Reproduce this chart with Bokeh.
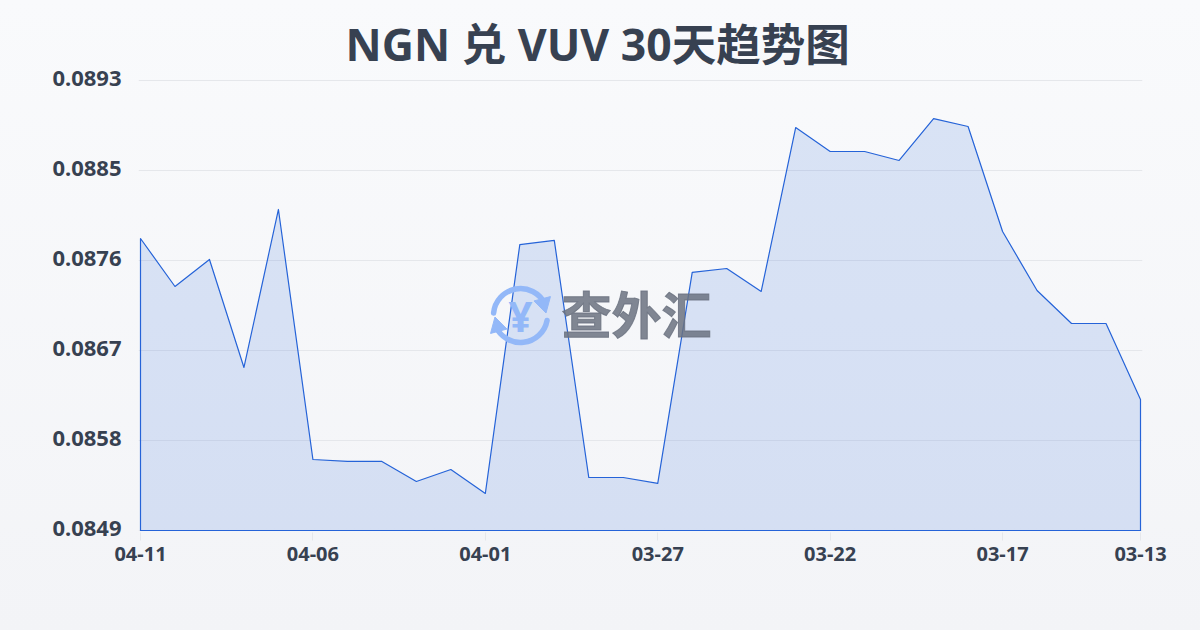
from bokeh.plotting import figure
from bokeh.embed import file_html
from bokeh.resources import INLINE
from bokeh.models import Range1d, FixedTicker
from bokeh.core.properties import value

TITLE = "NGN 兑 VUV 30天趋势图"
dates = ["04-11","04-10","04-09","04-08","04-07","04-06","04-05","04-04","04-03","04-02",
         "04-01","03-31","03-30","03-29","03-28","03-27","03-26","03-25","03-24","03-23",
         "03-22","03-21","03-20","03-19","03-18","03-17","03-16","03-15","03-14","03-13"]
rates = [0.087755,0.087286,0.087550,0.086494,0.088039,0.085594,0.085575,0.085575,0.085379,0.085496,
         0.085262,0.087696,0.087736,0.085418,0.085418,0.085360,0.087423,0.087462,0.087237,0.088840,
         0.088606,0.088606,0.088518,0.088928,0.088850,0.087824,0.087247,0.086924,0.086924,0.086181]
x_tick_idx = [0,5,10,15,20,25,29]
y_ticks = [0.0849,0.08578,0.08666,0.08754,0.08842,0.0893]
y_labels = ["0.0849","0.0858","0.0867","0.0876","0.0885","0.0893"]
BASE = 0.0849
TOP = 0.0893

d = (TOP - BASE) / 450          # value per pixel
step = 29 / 1000                # index per pixel
pad = 2                         # frame margin in px, so the area's outline is not clipped
top_pad = 7                     # frame runs this far above the top gridline
y_start = BASE - pad * d
y_end = TOP + top_pad * d

p = figure(width=1200, height=630, output_backend="svg", toolbar_location=None,
           x_range=Range1d(-pad * step, 29 + pad * step), y_range=Range1d(y_start, y_end),
           min_border_left=140 - pad, min_border_right=60 - pad, min_border_top=80 - top_pad,
           min_border_bottom=100 - pad,
           background_fill_color=None, border_fill_color=None, outline_line_color=None)
p.frame_width = 1000 + 2 * pad
p.frame_height = 450 + top_pad + pad

p.title.text = TITLE
p.title.align = "left"
p.title.offset = 207
p.title.standoff = 0
p.title.text_font = "'Noto Sans', 'Noto Sans CJK SC'"
p.title.text_font_style = "bold"
p.title.text_font_size = "44.5px"
p.title.text_color = "#374151"

idx = list(range(len(rates)))
p.xgrid.grid_line_color = None
p.ygrid.grid_line_color = "#e5e7eb"
p.ygrid.grid_line_width = 1
p.ygrid.ticker = FixedTicker(ticks=y_ticks)

# labels sit 2px above their gridlines, so the axis runs on a slightly shifted range
shift = 2 * d
p.extra_y_ranges["ylab"] = Range1d(y_start - shift, y_end - shift)
p.yaxis.y_range_name = "ylab"
p.yaxis.ticker = FixedTicker(ticks=y_ticks)
p.yaxis.major_label_overrides = dict(zip(y_ticks, y_labels))
p.yaxis.axis_line_color = None
p.yaxis.major_tick_line_color = None
p.yaxis.minor_tick_line_color = None
p.yaxis.major_label_text_font = "Noto Sans"
p.yaxis.major_label_text_font_style = "bold"
p.yaxis.major_label_text_font_size = "22px"
p.yaxis.major_label_text_color = "#374151"
p.yaxis.major_label_standoff = 13 - pad

p.xaxis.ticker = FixedTicker(ticks=x_tick_idx)
p.xaxis.major_label_overrides = {i: dates[i] for i in x_tick_idx}
p.xaxis.axis_line_color = None
p.xaxis.major_tick_line_color = "#e5e7eb"
p.xaxis.major_tick_in = 0
p.xaxis.major_tick_out = 10 - pad
p.xaxis.minor_tick_line_color = None
p.xaxis.major_label_text_font = "Noto Sans"
p.xaxis.major_label_text_font_style = "bold"
p.xaxis.major_label_text_font_size = "20px"
p.xaxis.major_label_text_color = "#374151"
p.xaxis.major_label_standoff = 6

p.patch(idx + [idx[-1], idx[0]], rates + [BASE, BASE],
        fill_color="#2563d8", fill_alpha=0.15,
        line_color="#2563d8", line_width=1.2, line_join="round")

# pixel-space ranges for the watermark logo
p.extra_x_ranges["px"] = Range1d(140 - pad, 1140 + pad)
p.extra_y_ranges["px"] = Range1d(530 + pad, 80 - top_pad)
LOGO = "#93b8f8"
kw = dict(x_range_name="px", y_range_name="px")
p.arc(x=[520, 520], y=[315, 315], radius=27, radius_units="screen",
      start_angle=[0.45, 3.55], end_angle=[3.05, 6.1], start_angle_units="rad",
      line_color=LOGO, line_width=5.5, line_cap="round", **kw)
p.scatter(x=[543, 497], y=[303, 326], marker="triangle", size=17, angle=[3.4, 0.26],
          fill_color=LOGO, line_color=LOGO, **kw)
p.text(x=[520], y=[315], text=["¥"], text_color=LOGO, text_align="center", text_baseline="middle",
       text_font=value("Noto Sans"), text_font_style="bold", text_font_size="42px", **kw)
p.text(x=[636], y=[311], text=["查外汇"], text_color="#6b7280", text_alpha=0.85,
       text_outline_color="#6b7280",
       text_align="center", text_baseline="middle",
       text_font=value("Noto Sans CJK SC"), text_font_style="bold", text_font_size="50px", **kw)

html = file_html(p, INLINE)
html = html.replace("</head>",
    "<style>html{min-height:100%;background:linear-gradient(180deg,#f9fafc 0%,#f3f4f7 100%);}"
    "body{margin:0 !important;background:transparent !important;}</style></head>", 1)
open("out.html", "w").write(html)
